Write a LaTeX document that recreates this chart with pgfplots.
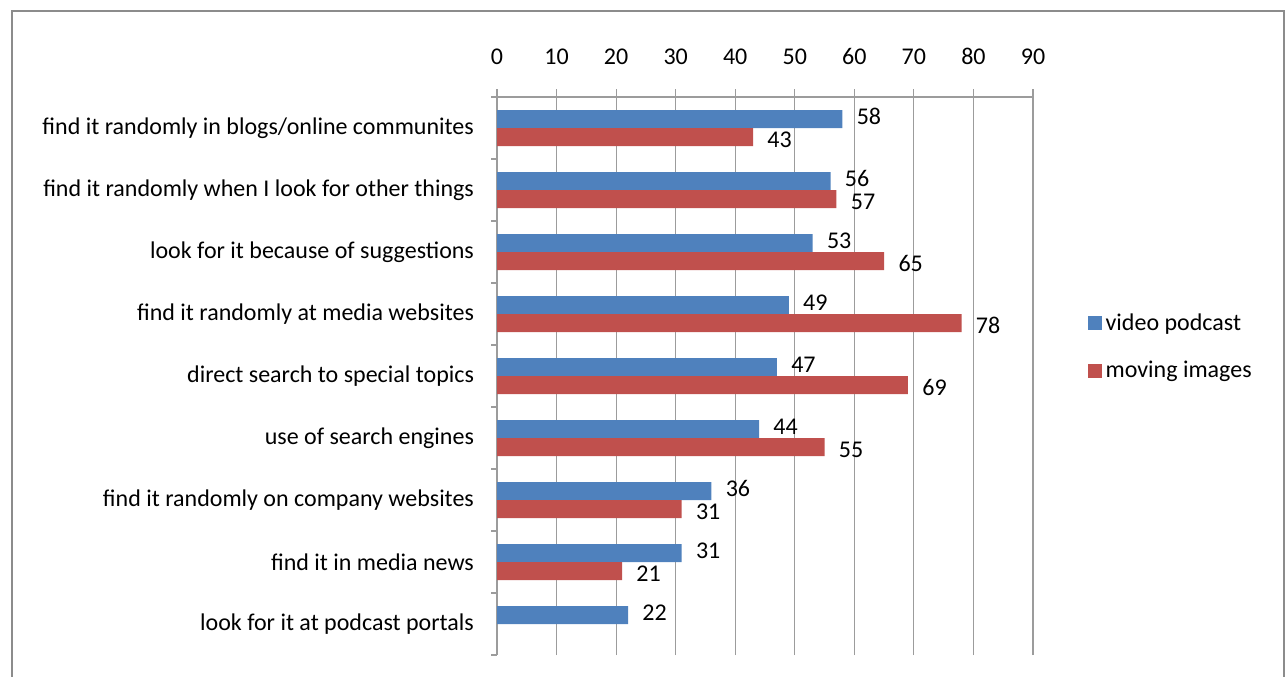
\documentclass[border=0pt]{standalone}
\usepackage{pgfplots}
\pgfplotsset{compat=1.18}
\usepackage{fontspec}
\setmainfont{Carlito}
\definecolor{vblue}{HTML}{4F81BD}
\definecolor{mred}{HTML}{C0504D}
\definecolor{gridgray}{HTML}{9C9C9C}
\definecolor{framegray}{HTML}{8C8C8C}
\begin{document}
\begin{tikzpicture}
\useasboundingbox (0,0) rectangle (644pt,338pt);
\draw[framegray, line width=1pt] (6pt,-20pt) rectangle (642pt,332.5pt);
\begin{axis}[
  at={(248.5pt,10.5pt)}, anchor=south west,
  scale only axis, width=268pt, height=279pt,
  xbar, bar width=9pt,
  xmin=0, xmax=90, ymin=-0.5, ymax=8.5,
  axis x line*=top, axis y line*=left,
  axis line style={gridgray, line width=0.6pt},
  xtick={0,10,...,90}, xtick align=outside, major tick length=4pt,
  major x tick style={gridgray, line width=0.6pt},
  xmajorgrids, grid style={gridgray, line width=0.6pt},
  ytick={0,...,8},
  yticklabels={look for it at podcast portals, find it in media news, find it randomly on company websites, use of search engines, direct search to special topics, find it randomly at media websites, look for it because of suggestions, find it randomly when I look for other things, find it randomly in blogs/online communites},
  major y tick style={draw=none},
  minor ytick={-0.5,0.5,...,8.5}, ytick align=outside, minor tick length=3pt,
  minor y tick style={gridgray, line width=0.6pt},
  y tick label style={font=\fontsize{12pt}{14pt}\selectfont, anchor=east, xshift=-4pt},
  x tick label style={font=\fontsize{12pt}{14pt}\selectfont, yshift=8.5pt},
  /pgf/number format/assume math mode=true,
  xticklabel pos=right,
  tick label style={text=black},
  nodes near coords, point meta=x,
  nodes near coords style={font=\fontsize{12pt}{14pt}\selectfont, anchor=west, xshift=3.5pt, text=black, inner sep=1pt},
  legend style={at={(1.09,0.552)}, anchor=west, draw=none, fill=none,
    font=\fontsize{12pt}{14pt}\selectfont, row sep=10pt, legend cell align=left},
  legend image code/.code={\fill[#1] (0pt,-3.5pt) rectangle (7pt,3.5pt);},
]
\addplot[fill=vblue, draw=none, bar shift=4.5pt, nodes near coords style={yshift=1.2pt, xshift=2.5pt}] coordinates {
  (58,8) (56,7) (53,6) (49,5) (47,4) (44,3) (36,2) (31,1) (22,0)};
\addplot[fill=mred, draw=none, bar shift=-4.5pt, nodes near coords style={yshift=-1.2pt, xshift=2.5pt}] coordinates {
  (43,8) (57,7) (65,6) (78,5) (69,4) (55,3) (31,2) (21,1)};
\legend{video podcast, moving images}
\end{axis}
\end{tikzpicture}
\end{document}
